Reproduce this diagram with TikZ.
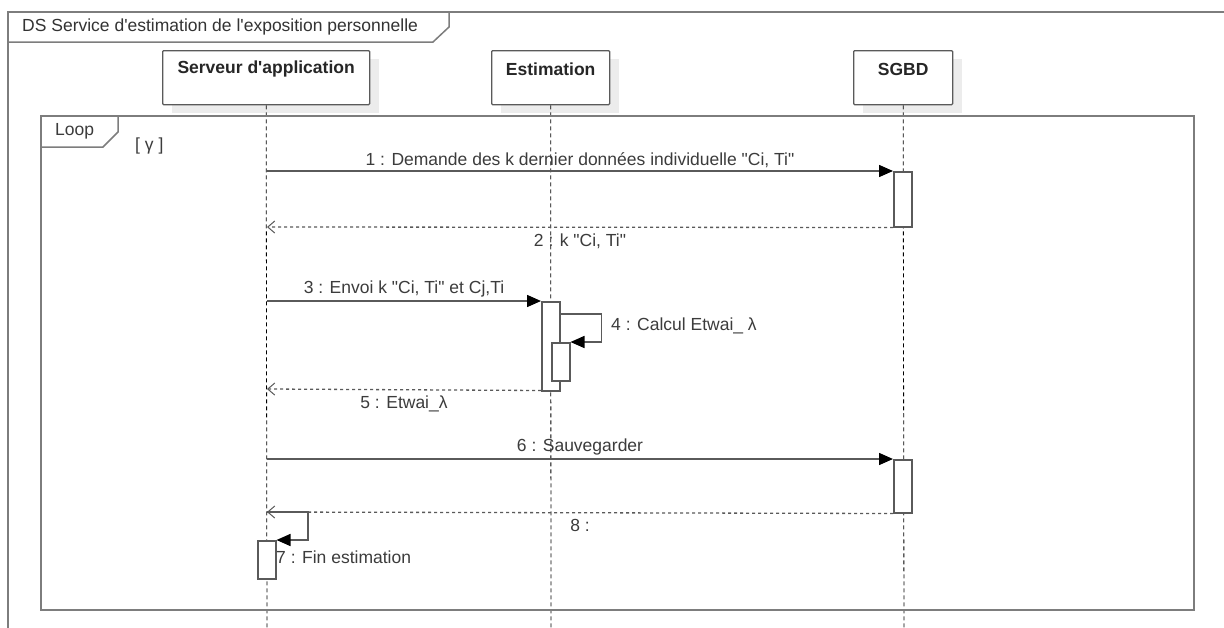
\documentclass[tikz,border=0pt]{standalone}
\usepackage{fontspec}
\setmainfont{Liberation Sans}
\usetikzlibrary{arrows.meta,positioning}

\definecolor{linegray}{RGB}{90,90,90}
\definecolor{framegray}{RGB}{125,125,125}
\definecolor{shadowgray}{RGB}{236,236,236}
\definecolor{textgray}{RGB}{60,60,60}

\newcommand{\qq}{\textquotedbl}

\tikzset{
	head/.style={draw=linegray, line width=1.3pt, fill=white, minimum width=#1, minimum height=54pt,
		anchor=north west, inner sep=0pt, rounded corners=1pt},
	headtext/.style={font=\fontsize{17.5}{20}\selectfont\bfseries, text=black!85},
	lifeline/.style={black, line width=0.8pt, dash pattern=on 4pt off 3pt},
	activation/.style={draw=linegray, line width=1.5pt, fill=white, minimum width=18pt,
		minimum height=#1, anchor=north west, inner sep=0pt},
	msg/.style={draw=linegray, line width=1.5pt, -{Triangle[length=14pt,width=12pt,black]}},
	ret/.style={draw=linegray, line width=1.3pt, dash pattern=on 3pt off 3pt,
		-{Straight Barb[length=7pt,width=12pt,line width=1pt]}},
	lbl/.style={font=\fontsize{17.5}{20}\selectfont, text=textgray, inner sep=1pt},
	frametab/.style={draw=framegray, line width=1.5pt}
}

\begin{document}
\begin{tikzpicture}[x=1pt,y=-1pt]
		\useasboundingbox (0,0) rectangle (1224,627);
		\clip (0,0) rectangle (1224,627);
		\fill[white] (0,0) rectangle (1224,627);
		
		% Outer frame and its tab
		\draw[frametab] (8,640) -- (8,12) -- (1240,12);
		\draw[frametab] (8,42) -- (433,42) -- (449,27) -- (449,12);
		\node[lbl, anchor=west, text=black!80] (title) at (21,27) {DS Service d\textquotesingle estimation de l\textquotesingle exposition personnelle};
		
		% Lifeline heads (with shadows)
		\fill[shadowgray] (172,59) rectangle (379,113);
		\fill[shadowgray] (501,59) rectangle (619,113);
		\fill[shadowgray] (863,59) rectangle (962,113);
		\node[head=207pt] (srv) at (162,50) {};
		\node[head=118pt] (est) at (491,50) {};
		\node[head=99pt] (db) at (853,50) {};
		\node[headtext] at ([yshift=-19pt]srv.north) {Serveur d\textquotesingle application};
		\node[headtext] at ([yshift=-19pt]est.north) {Estimation};
		\node[headtext] at ([yshift=-19pt]db.north) {SGBD};
		
		% Lifelines
		\coordinate (srvEnd) at (267,640);
		\coordinate (estEnd) at (551,640);
		\coordinate (dbEnd) at (904,640);
		\draw[lifeline] (srv.south) -- (srvEnd);
		\draw[lifeline] (est.south) -- (estEnd);
		\draw[lifeline] (db.south) -- (dbEnd);
		
		% Loop fragment
		\draw[frametab] (41,116) rectangle (1194,610);
		\draw[frametab] (41,147) -- (103,147) -- (118,132) -- (118,116);
		\node[lbl, anchor=west] (loop) at (54,131) {Loop};
		\node[lbl, anchor=west] (guard) at (134,146) {[ γ ]};
		
		% Activations
		\node[activation=55pt] (act1) at (893,171) {};
		\node[activation=89pt] (act3) at (541,301) {};
		\node[activation=38pt] (act4) at (551,342) {};
		\node[activation=53pt] (act6) at (893,459) {};
		\node[activation=38pt] (act7) at (257,540) {};
		
		% Points on the server lifeline
		\coordinate (s1) at (267,171);
		\coordinate (s2) at (267,227);
		\coordinate (s3) at (267,301);
		\coordinate (s5) at (267,389);
		\coordinate (s6) at (267,459);
		\coordinate (s8) at (267,512);
		
		% Messages
		\draw[msg] (s1) -- (act1.north west) node[lbl, midway, above=2pt] {1 : Demande des k dernier données individuelle \qq Ci, Ti\qq};
		\draw[ret] (act1.south west) -- (s2) node[lbl, midway, below=5pt] {2 : k \qq Ci, Ti\qq};
		\draw[msg] (s3) -- (act3.north west) node[lbl, midway, above=2pt] {3 : Envoi k \qq Ci, Ti\qq{} et Cj,Ti};
		\draw[msg] ([yshift=-13pt]act3.north east) -| ++(41,0) |- (act4.north east);
		\node[lbl, anchor=west] (m4) at (610,326) {4 : Calcul Etwai\_ λ};
		\draw[ret] ([yshift=1pt]act3.south west) -- (s5) node[lbl, midway, below=4pt] {5 : Etwai\_λ};
		\draw[msg] (s6) -- (act6.north west) node[lbl, midway, above=2pt] {6 : Sauvegarder};
		\draw[ret] (act6.south west) -- (s8) node[lbl, midway, below=5pt] {8 :};
		\draw[msg] (s8) -- ++(41,0) |- (act7.north east);
		\node[lbl, anchor=west] (m7) at (275,557) {7 : Fin estimation};
		
	\end{tikzpicture}
\end{document}
